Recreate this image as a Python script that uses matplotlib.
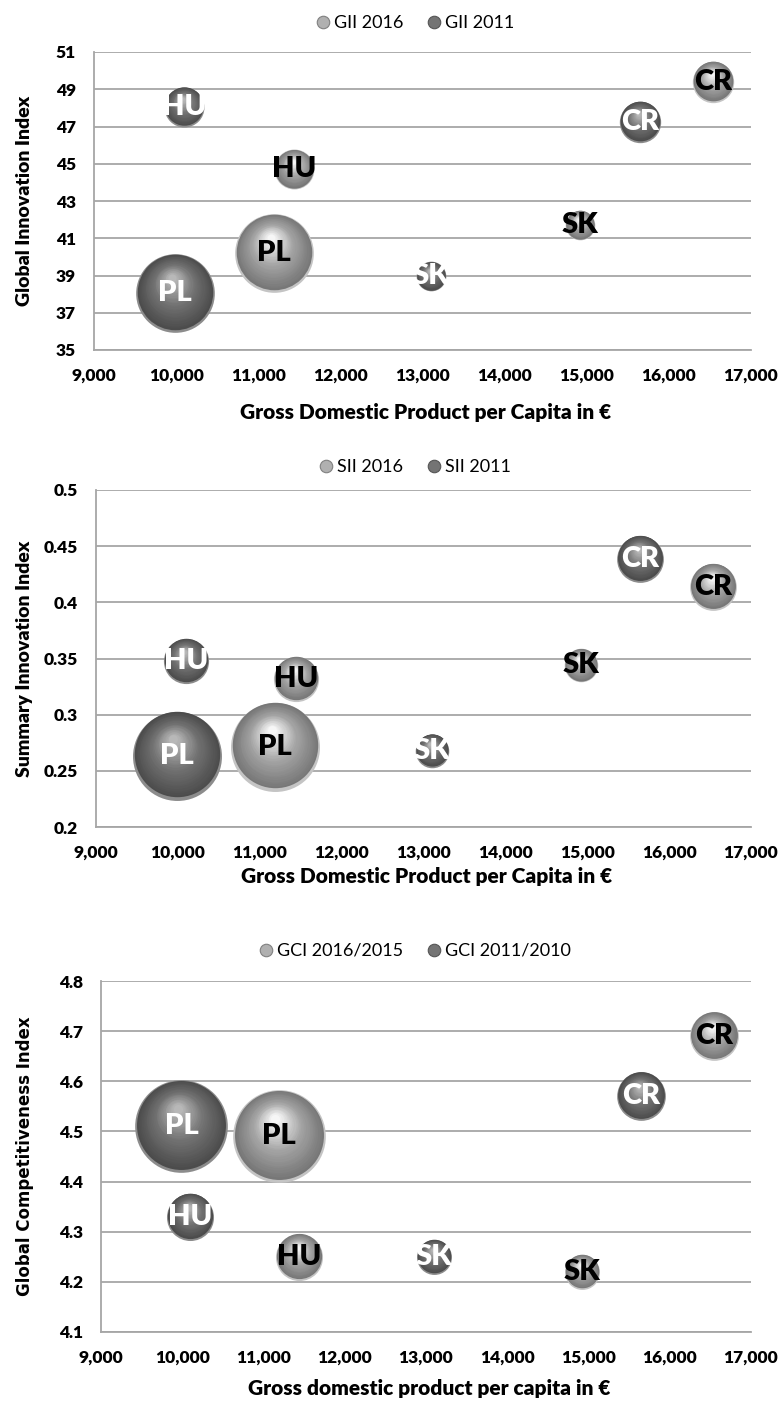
import numpy as np
import matplotlib
matplotlib.use('Agg')
import matplotlib.pyplot as plt
from matplotlib.transforms import ScaledTranslation
from matplotlib.lines import Line2D
from matplotlib.colors import to_rgb

plt.rcParams['font.family'] = ['Lato', 'DejaVu Sans']

countries = ['PL', 'HU', 'SK', 'CR']
population = [38.0, 9.8, 5.4, 10.5]  # bubble size

gdp_2016 = [11190, 11440, 14920, 16540]
gdp_2011 = [9990, 10100, 13100, 15650]

gii_2016 = [40.2, 44.7, 41.7, 49.4]
gii_2011 = [38.05, 48.05, 38.95, 47.25]

sii_2016 = [0.271, 0.332, 0.344, 0.414]
sii_2011 = [0.263, 0.348, 0.268, 0.439]

gci_2016 = [4.49, 4.25, 4.22, 4.69]
gci_2011 = [4.51, 4.33, 4.25, 4.57]

xticks = [9000, 10000, 11000, 12000, 13000, 14000, 15000, 16000, 17000]

W, H = 783, 1401
fig = plt.figure(figsize=(W / 100, H / 100), dpi=100)

GRID = '#a6a6a6'
LIGHT = dict(rim='#c4c4c4', dark='#777777', base='#a4a4a4', hi='#f6f6f6')
DARK = dict(rim='#8c8c8c', dark='#4c4c4c', base='#717171', hi='#b8b8b8')


def mix(c1, c2, t):
    a = np.array(to_rgb(c1))
    b = np.array(to_rgb(c2))
    return tuple(a + (b - a) * t)


def sphere(ax, x, y, s, pal, z):
    r = np.sqrt(s) / 2  # radius in points
    ax.scatter([x], [y], s=s, color=pal['rim'], lw=0, zorder=z)
    n = 26
    for i in range(n):
        f = i / (n - 1)
        rad = r * (0.96 - 0.86 * f)
        if f < 0.5:
            c = mix(pal['dark'], pal['base'], f / 0.5)
        else:
            c = mix(pal['base'], pal['hi'], (f - 0.5) / 0.5)
        dx = -0.08 * r * f
        dy = 0.04 * r + 0.34 * r * f
        tr = ax.transData + ScaledTranslation(dx / 72, dy / 72, fig.dpi_scale_trans)
        ax.scatter([x], [y], s=(2 * rad) ** 2, color=c, lw=0, zorder=z, transform=tr)


def panel(box, ys16, ys11, ylim, yticks, yfmt, ylabel, xlabel, leg, leg_y, xlab_y,
          ylab_font, ylab_size):
    left, top, right, bottom = box
    ax = fig.add_axes([left / W, (H - bottom) / H, (right - left) / W, (bottom - top) / H])
    hpx = bottom - top
    r_pl = 0.132 * hpx * 0.72  # radius in points of largest bubble
    k = (2 * r_pl) ** 2 / max(population)

    ax.set_xlim(9000, 17000)
    ax.set_ylim(*ylim)
    ax.set_xticks(xticks)
    ax.set_xticklabels([f'{v:,}' for v in xticks])
    ax.set_yticks(yticks)
    ax.set_yticklabels([yfmt(v) for v in yticks])
    ax.tick_params(length=0, labelsize=12.5, pad=13)
    for lab in ax.get_xticklabels() + ax.get_yticklabels():
        lab.set_fontweight('heavy')
    ax.grid(axis='y', color=GRID, lw=1.3)
    ax.set_axisbelow(True)
    for sp in ['top', 'right']:
        ax.spines[sp].set_visible(False)
    for sp in ['left', 'bottom']:
        ax.spines[sp].set_color(GRID)
        ax.spines[sp].set_linewidth(1.3)

    for i, c in enumerate(countries):
        s = k * population[i]
        sphere(ax, gdp_2016[i], ys16[i], s, LIGHT, 3)
        sphere(ax, gdp_2011[i], ys11[i], s, DARK, 3)
    for i, c in enumerate(countries):
        ax.text(gdp_2016[i], ys16[i], c, ha='center', va='center', fontsize=21,
                fontweight='heavy', color='black', zorder=10)
        ax.text(gdp_2011[i], ys11[i], c, ha='center', va='center', fontsize=21,
                fontweight='heavy', color='white', zorder=10)

    ax.set_xlabel(xlabel, fontsize=15, fontweight='heavy')
    ax.xaxis.set_label_coords(0.505, (bottom - xlab_y) / hpx)
    ax.xaxis.label.set_va('center')
    ax.set_ylabel(ylabel, fontsize=ylab_size, fontweight='heavy', family=ylab_font)
    ax.yaxis.set_label_coords((25 - left) / (right - left), 0.5)
    ax.yaxis.label.set_va('center')

    handles = [
        Line2D([], [], ls='none', marker='o', ms=9, mfc='#b0b0b0', mec='#808080', mew=0.8),
        Line2D([], [], ls='none', marker='o', ms=9, mfc='#747474', mec='#555555', mew=0.8),
    ]
    ax.legend(handles, leg, loc='center', ncol=2, frameon=False, fontsize=13,
              bbox_to_anchor=((414 - left) / (right - left), (bottom - leg_y) / hpx),
              handletextpad=0.1, columnspacing=1.2, handlelength=1.0)
    return ax


panel((94, 52, 751, 350), gii_2016, gii_2011, (35, 51), list(range(35, 52, 2)),
      lambda v: f'{v}', 'Global Innovation Index', 'Gross Domestic Product per Capita in €',
      ['GII 2016', 'GII 2011'], 23, 413, 'Lato', 14)

panel((96, 490, 751, 827), sii_2016, sii_2011, (0.2, 0.5),
      [0.2, 0.25, 0.3, 0.35, 0.4, 0.45, 0.5],
      lambda v: f'{v:g}', 'Summary Innovation Index', 'Gross Domestic Product per Capita in €',
      ['SII 2016', 'SII 2011'], 467, 876, 'Lato', 14)

panel((101, 981, 751, 1332), gci_2016, gci_2011, (4.1, 4.8),
      [4.1, 4.2, 4.3, 4.4, 4.5, 4.6, 4.7, 4.8],
      lambda v: f'{v:.1f}', 'Global Competitiveness Index', 'Gross domestic product per capita in €',
      ['GCI 2016/2015', 'GCI 2011/2010'], 951, 1388, 'DejaVu Sans', 12)

fig.savefig('out.png', dpi=100)
